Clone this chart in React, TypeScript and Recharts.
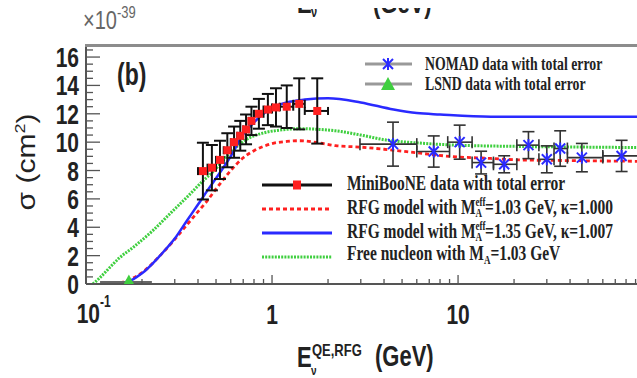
import React from 'react';
import { ComposedChart, Line, Scatter, XAxis, YAxis, ErrorBar } from 'recharts';

// ---------- data ----------
const rfg103E = [0.14, 0.16, 0.2, 0.25, 0.3, 0.35, 0.4, 0.45, 0.5, 0.6, 0.7, 0.8, 0.9, 1.0, 1.2, 1.4, 1.8, 2.2, 3.0, 4.0, 6.0, 9.0, 15, 21, 40, 91.6];
const rfg103S = [0, 0.15, 0.8, 2.0, 3.15, 4.2, 5.1, 5.9, 6.7, 8.0, 8.9, 9.4, 9.7, 9.9, 10.05, 10.1, 9.95, 9.75, 9.65, 9.5, 9.25, 9.0, 8.85, 8.75, 8.7, 8.65];

const rfg135E = [0.135, 0.16, 0.18, 0.2, 0.25, 0.3, 0.35, 0.4, 0.45, 0.5, 0.55, 0.6, 0.7, 0.8, 0.9, 1.0, 1.2, 1.5, 2.0, 3.0, 4.5, 6.0, 8.0, 15, 30, 91.6];
const rfg135S = [0, 0.1, 0.35, 0.75, 2.0, 3.2, 4.5, 5.6, 6.6, 7.45, 8.25, 9.0, 10.55, 11.4, 12.0, 12.4, 12.8, 13.0, 13.1, 12.8, 12.3, 12.05, 11.95, 11.8, 11.8, 11.8];

const freeE = [0.109, 0.12, 0.135, 0.15, 0.18, 0.23, 0.29, 0.36, 0.42, 0.48, 0.6, 0.73, 0.9, 1.1, 1.4, 1.8, 2.2, 3.0, 4.1, 6.0, 9.4, 21, 50, 91.6];
const freeS = [0, 0.5, 1.2, 1.8, 2.6, 3.8, 5.1, 6.3, 7.2, 7.9, 9.3, 10.2, 10.65, 10.85, 10.95, 10.9, 10.8, 10.5, 10.15, 9.95, 9.8, 9.7, 9.65, 9.62];

const mbE = [0.425, 0.475, 0.525, 0.575, 0.625, 0.675, 0.725, 0.775, 0.85, 0.95, 1.05, 1.2, 1.4, 1.75];
const mbS = [7.96, 8.2, 8.75, 9.43, 10.0, 10.45, 10.9, 11.5, 12.0, 12.3, 12.45, 12.5, 12.7, 12.2];
const mbErr = [2.0, 1.6, 1.35, 1.2, 1.1, 1.05, 1.05, 1.0, 1.05, 1.1, 1.35, 1.5, 1.8, 2.3];
const mbLo = [0.4, 0.45, 0.5, 0.55, 0.6, 0.65, 0.7, 0.75, 0.8, 0.9, 1.0, 1.1, 1.3, 1.5];
const mbHi = [0.45, 0.5, 0.55, 0.6, 0.65, 0.7, 0.75, 0.8, 0.9, 1.0, 1.1, 1.3, 1.5, 2.0];

const nomadE = [4.47, 7.4, 10.2, 13.3, 17.7, 23.9, 30.0, 35.4, 46.3, 75.7];
const nomadS = [9.86, 9.34, 10.0, 8.56, 8.44, 9.79, 8.79, 9.55, 8.91, 9.03];
const nomadErr = [1.55, 1.1, 1.2, 0.8, 0.6, 0.95, 0.95, 1.25, 1.0, 1.1];
const nomadLo = [2.97, 6.0, 8.8, 11.9, 15.5, 20.7, 27.2, 32.8, 38.7, 60];
const nomadHi = [6.0, 9.0, 11.9, 15.5, 20.7, 27.2, 32.8, 38.7, 60, 100];

const lsndE = [0.17];
const lsndS = [0.1];
const lsndLo = [0.119];
const lsndHi = [0.226];

const xTicks = [0.1, 0.2, 0.3, 0.4, 0.5, 0.6, 0.7, 0.8, 0.9, 1, 2, 3, 4, 5, 6, 7, 8, 9, 10, 20, 30, 40, 50, 60, 70, 80, 90];
const yTicks = Array.from({ length: 34 }, (_, i) => i * 0.5);
const yLabels = [0, 2, 4, 6, 8, 10, 12, 14, 16];

// ---------- tables ----------
const curve = (xs: number[], ys: number[]) => xs.map((x, i) => ({ x, y: ys[i] }));
const rfg103Data = curve(rfg103E, rfg103S);
const rfg135Data = curve(rfg135E, rfg135S);
const freeData = curve(freeE, freeS);
const mbData = mbE.map((x, i) => ({ x, y: mbS[i], ey: mbErr[i], ex: [x - mbLo[i], mbHi[i] - x] }));
const nomadData = nomadE.map((x, i) => ({ x, y: nomadS[i], ey: nomadErr[i], ex: [x - nomadLo[i], nomadHi[i] - x] }));
const lsndData = lsndE.map((x, i) => ({ x, y: lsndS[i], ex: [x - lsndLo[i], lsndHi[i] - x] }));

const SANS = '"Liberation Sans", Arial, Helvetica, sans-serif';
const SERIF = '"Liberation Serif", "Times New Roman", serif';
const SY = 1.33;

const RED = '#ff2020';
const BLUE = '#2a2aff';
const GREEN = '#3fcf3f';

const YTick = (props: any) => {
  const { x, y, payload } = props;
  const v = payload.value;
  const major = yLabels.indexOf(v) >= 0;
  return (
    <g>
      <line x1={x} x2={x + (major ? 14 : 7)} y1={y} y2={y} stroke="#555" strokeWidth={1.3} />
      {major && (
        <text transform={`translate(${x - 7},${y + 10}) scale(1,${SY})`} textAnchor="end" fontSize={21} fontWeight="bold" fontFamily={SANS} fill="#222">
          {v}
        </text>
      )}
    </g>
  );
};

const XTick = (props: any) => {
  const { x, y, payload } = props;
  const v = payload.value;
  const major = v === 1 || v === 10 || v === 0.1;
  return (
    <g>
      <line x1={x} x2={x} y1={y} y2={y - (major ? 9 : 5)} stroke="#555" strokeWidth={1.3} />
      {v === 0.1 && (
        <g>
          <text transform={`translate(${x + 14},${y + 39}) scale(1,${SY})`} textAnchor="end" fontSize={21} fontWeight="bold" fontFamily={SANS} fill="#222">10</text>
          <text transform={`translate(${x + 14},${y + 23}) scale(1,${SY})`} textAnchor="start" fontSize={12} fontWeight="bold" fontFamily={SANS} fill="#222">-1</text>
        </g>
      )}
      {(v === 1 || v === 10) && (
        <text transform={`translate(${x},${y + 40}) scale(1,${SY})`} textAnchor="middle" fontSize={21} fontWeight="bold" fontFamily={SANS} fill="#222">
          {v}
        </text>
      )}
    </g>
  );
};

const SquareShape = (p: any) => <rect x={p.cx - 4} y={p.cy - 4} width={8} height={8} fill={RED} />;
const StarShape = (p: any) => (
  <g stroke={BLUE} strokeWidth={2}>
    <line x1={p.cx - 5} y1={p.cy - 5} x2={p.cx + 5} y2={p.cy + 5} />
    <line x1={p.cx - 5} y1={p.cy + 5} x2={p.cx + 5} y2={p.cy - 5} />
    <line x1={p.cx} y1={p.cy - 6} x2={p.cx} y2={p.cy + 6} />
  </g>
);
const TriShape = (p: any) => (
  <polygon points={`${p.cx},${p.cy - 8} ${p.cx - 7},${p.cy + 5} ${p.cx + 7},${p.cy + 5}`} fill={GREEN} />
);

const T = ({ x, y, size, weight = 'bold', family = SANS, anchor = 'start', sy = SY, fill = '#222', children }: any) => (
  <text transform={`translate(${x},${y}) scale(1,${sy})`} fontSize={size} fontWeight={weight} fontFamily={family} textAnchor={anchor} fill={fill}>
    {children}
  </text>
);

export default function App() {
  return (
    <div style={{ position: 'absolute', left: 0, top: 0, width: 637, height: 378, background: '#fff', overflow: 'hidden' }}>
      <ComposedChart width={637} height={378} margin={{ top: 45, right: 0, bottom: 0, left: 0 }}>
        <XAxis
          type="number"
          dataKey="x"
          scale="log"
          domain={[0.1, 91.6]}
          allowDataOverflow
          ticks={xTicks}
          interval={0}
          tick={(p: any) => <XTick {...p} />}
          tickLine={false}
          tickSize={0}
          tickMargin={0}
          height={94}
          axisLine={{ stroke: '#555', strokeWidth: 2 }}
        />
        <YAxis
          type="number"
          dataKey="y"
          domain={[0, 16.85]}
          allowDataOverflow
          ticks={yTicks}
          interval={0}
          tick={(p: any) => <YTick {...p} />}
          tickLine={false}
          tickSize={0}
          tickMargin={0}
          width={86}
          axisLine={{ stroke: '#555', strokeWidth: 2 }}
        />
        <Line data={freeData} dataKey="y" type="monotone" stroke={GREEN} strokeWidth={3} strokeDasharray="2 1.2" dot={false} isAnimationActive={false} />
        <Line data={rfg103Data} dataKey="y" type="monotone" stroke={RED} strokeWidth={2.8} strokeDasharray="4 3" dot={false} isAnimationActive={false} />
        <Line data={rfg135Data} dataKey="y" type="monotone" stroke={BLUE} strokeWidth={2.5} dot={false} isAnimationActive={false} />
        <Scatter data={lsndData} shape={TriShape} isAnimationActive={false}>
          <ErrorBar dataKey="ex" direction="x" width={0} stroke="#666" strokeWidth={3} isAnimationActive={false} />
        </Scatter>
        <Scatter data={nomadData} shape={StarShape} isAnimationActive={false}>
          <ErrorBar dataKey="ey" direction="y" width={6} stroke="#333" strokeWidth={1.6} isAnimationActive={false} />
          <ErrorBar dataKey="ex" direction="x" width={6} stroke="#333" strokeWidth={1.6} isAnimationActive={false} />
        </Scatter>
        <Scatter data={mbData} shape={SquareShape} isAnimationActive={false}>
          <ErrorBar dataKey="ey" direction="y" width={6} stroke="#111" strokeWidth={2} isAnimationActive={false} />
          <ErrorBar dataKey="ex" direction="x" width={4} stroke="#111" strokeWidth={2} isAnimationActive={false} />
        </Scatter>
      </ComposedChart>

      <svg width={637} height={378} style={{ position: 'absolute', left: 0, top: 0, pointerEvents: 'none' }}>
        {/* cropped title of the panel above: only the bottom strip is visible */}
        <svg x={270} y={8} width={200} height={12} overflow="hidden">
          <T x={27} y={5} size={22}>E</T>
          <T x={41} y={9} size={11}>ν</T>
          <T x={103} y={5} size={22}>(GeV)</T>
        </svg>
        {/* top frame */}
        <line x1={85} x2={637} y1={45.5} y2={45.5} stroke="#8c8c8c" strokeWidth={3} />
        {/* exponent */}
        <T x={83} y={29} size={20} weight="normal" fill="#666">×10</T>
        <T x={117} y={18} size={13} weight="normal" fill="#666">-39</T>
        {/* panel tag */}
        <T x={117} y={85} size={23}>(b)</T>
        {/* y title */}
        <text transform="translate(35,162) rotate(-90) scale(1.2,1)" textAnchor="middle" fontSize={25} fontFamily={SANS} fill="#222">
          σ (cm<tspan fontSize={15} dy={-10}>2</tspan><tspan dy={10}>)</tspan>
        </text>
        {/* x title */}
        <T x={297} y={367} size={22}>E</T>
        <T x={312} y={356} size={13}>QE,RFG</T>
        <T x={311} y={375} size={10}>ν</T>
        <T x={375} y={366} size={22}>(GeV)</T>

        {/* top legend */}
        <line x1={365} x2={412} y1={64} y2={64} stroke="#999" strokeWidth={3} />
        <StarShape cx={388} cy={64} />
        <T x={425} y={70} size={13.8} family={SERIF}>NOMAD data with total error</T>
        <line x1={365} x2={412} y1={84} y2={84} stroke="#999" strokeWidth={3} />
        <TriShape cx={388} cy={85} />
        <T x={425} y={90} size={13.8} family={SERIF}>LSND data with total error</T>

        {/* bottom legend */}
        <line x1={262} x2={332} y1={185} y2={185} stroke="#111" strokeWidth={3} />
        <rect x={293} y={180.5} width={8} height={9} fill={RED} />
        <T x={347} y={190} size={15.5} family={SERIF}>MiniBooNE data with total error</T>

        <line x1={262} x2={332} y1={209} y2={209} stroke={RED} strokeWidth={2.8} strokeDasharray="4 3" />
        <T x={347} y={214} size={15.5} family={SERIF}>
          RFG model with M<tspan fontSize={9} dy={-6}>eff</tspan><tspan fontSize={9} dx={-10} dy={8}>A</tspan><tspan dx={3} dy={-2}>=1.03 GeV, κ=1.000</tspan>
        </T>

        <line x1={262} x2={332} y1={233} y2={233} stroke={BLUE} strokeWidth={3} />
        <T x={347} y={238} size={15.5} family={SERIF}>
          RFG model with M<tspan fontSize={9} dy={-6}>eff</tspan><tspan fontSize={9} dx={-10} dy={8}>A</tspan><tspan dx={3} dy={-2}>=1.35 GeV, κ=1.007</tspan>
        </T>

        <line x1={262} x2={332} y1={257} y2={257} stroke={GREEN} strokeWidth={3} strokeDasharray="2 1.2" />
        <T x={347} y={260} size={15.5} family={SERIF}>
          Free nucleon with M<tspan fontSize={9} dy={3}>A</tspan><tspan dy={-3}>=1.03 GeV</tspan>
        </T>
      </svg>
    </div>
  );
}
